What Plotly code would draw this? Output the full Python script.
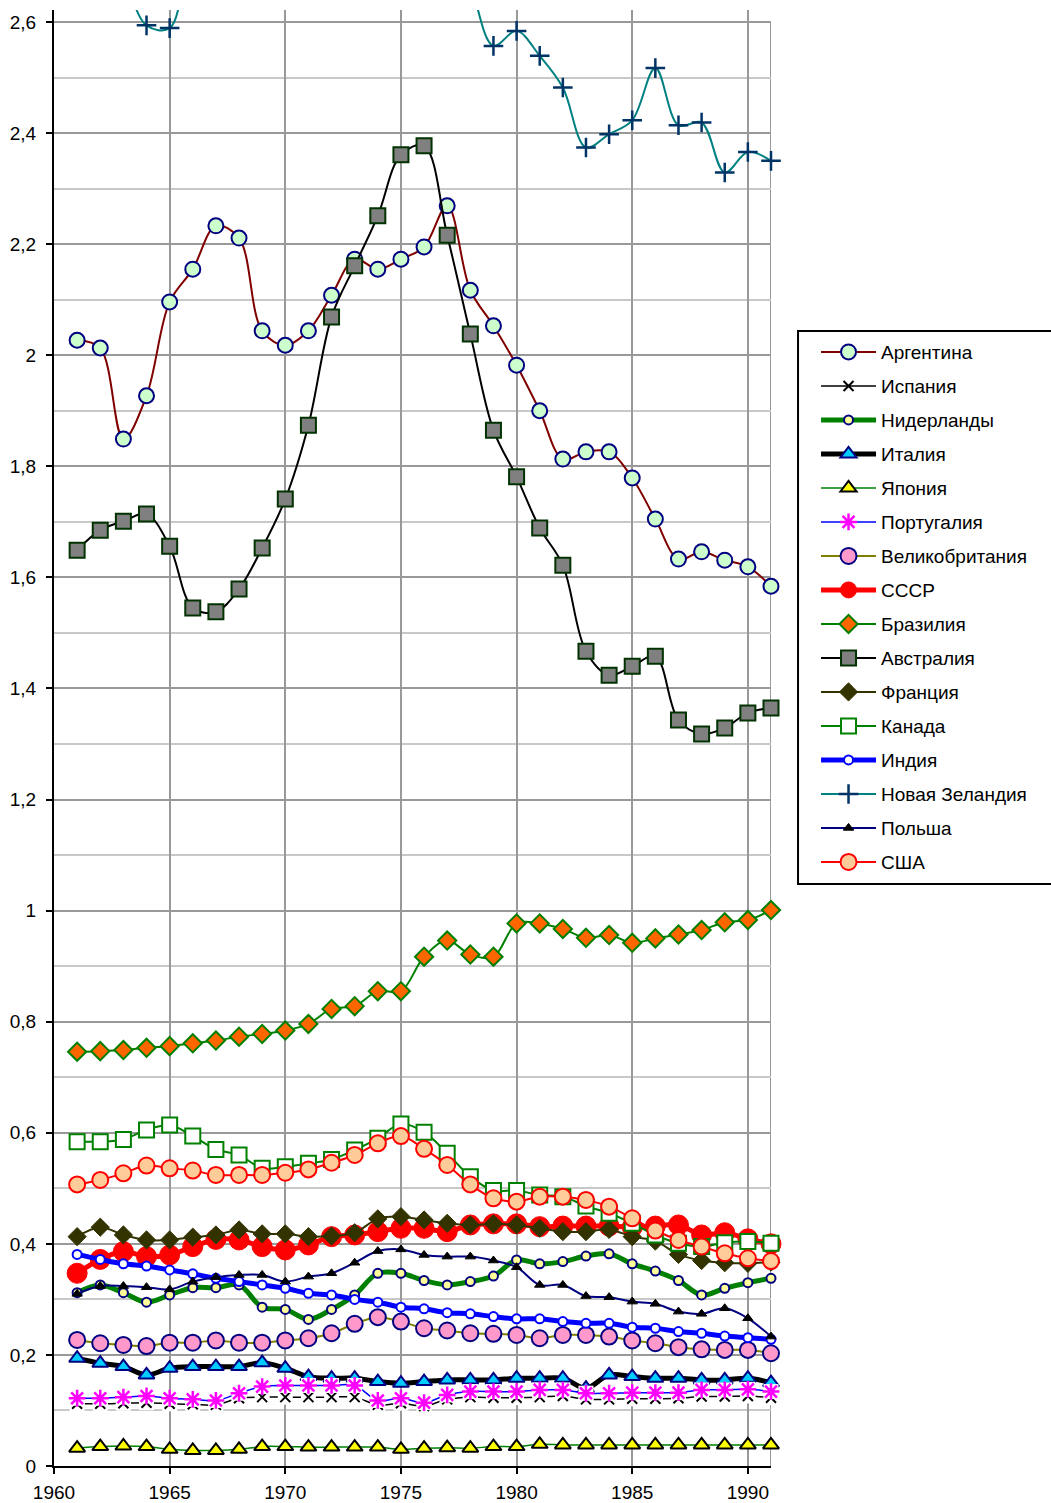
import plotly.graph_objects as go

years = list(range(1961, 1992))

argentina = [2.027, 2.013, 1.849, 1.927, 2.096, 2.155, 2.233, 2.211, 2.044, 2.018, 2.044, 2.108, 2.173, 2.155, 2.173, 2.195, 2.269, 2.117, 2.053, 1.982, 1.900, 1.813, 1.826, 1.826, 1.779, 1.705, 1.633, 1.646, 1.631, 1.619, 1.584]
spain = [0.112, 0.112, 0.113, 0.114, 0.112, 0.111, 0.110, 0.122, 0.124, 0.124, 0.124, 0.124, 0.124, 0.110, 0.113, 0.108, 0.120, 0.124, 0.123, 0.123, 0.124, 0.126, 0.120, 0.120, 0.121, 0.121, 0.122, 0.125, 0.125, 0.126, 0.123]
netherlands = [0.312, 0.326, 0.312, 0.295, 0.308, 0.321, 0.321, 0.326, 0.286, 0.282, 0.264, 0.282, 0.308, 0.347, 0.347, 0.334, 0.326, 0.332, 0.342, 0.371, 0.364, 0.368, 0.378, 0.382, 0.364, 0.351, 0.334, 0.308, 0.320, 0.330, 0.338]
italy = [0.194, 0.185, 0.179, 0.164, 0.176, 0.179, 0.179, 0.179, 0.186, 0.176, 0.161, 0.158, 0.158, 0.152, 0.149, 0.152, 0.155, 0.155, 0.155, 0.158, 0.158, 0.158, 0.140, 0.164, 0.161, 0.158, 0.158, 0.155, 0.155, 0.158, 0.150]
japan = [0.032, 0.035, 0.036, 0.035, 0.030, 0.028, 0.028, 0.030, 0.035, 0.035, 0.034, 0.034, 0.034, 0.034, 0.030, 0.032, 0.033, 0.032, 0.035, 0.035, 0.039, 0.038, 0.038, 0.038, 0.038, 0.038, 0.038, 0.038, 0.038, 0.038, 0.038]
portugal = [0.122, 0.122, 0.124, 0.126, 0.122, 0.120, 0.118, 0.131, 0.143, 0.145, 0.145, 0.145, 0.145, 0.118, 0.122, 0.114, 0.128, 0.134, 0.134, 0.134, 0.137, 0.137, 0.131, 0.131, 0.132, 0.132, 0.132, 0.137, 0.137, 0.138, 0.134]
uk = [0.227, 0.221, 0.218, 0.216, 0.222, 0.222, 0.226, 0.222, 0.222, 0.226, 0.230, 0.239, 0.256, 0.268, 0.260, 0.248, 0.244, 0.239, 0.238, 0.236, 0.230, 0.236, 0.236, 0.233, 0.226, 0.221, 0.214, 0.210, 0.209, 0.209, 0.203]
ussr = [0.347, 0.372, 0.386, 0.377, 0.380, 0.395, 0.408, 0.407, 0.395, 0.389, 0.398, 0.413, 0.416, 0.422, 0.428, 0.428, 0.422, 0.434, 0.436, 0.436, 0.431, 0.432, 0.432, 0.432, 0.430, 0.432, 0.434, 0.416, 0.420, 0.409, 0.400]
brazil = [0.746, 0.747, 0.749, 0.753, 0.756, 0.761, 0.766, 0.773, 0.778, 0.784, 0.796, 0.823, 0.828, 0.855, 0.855, 0.917, 0.946, 0.921, 0.917, 0.977, 0.977, 0.967, 0.951, 0.956, 0.942, 0.950, 0.957, 0.965, 0.979, 0.983, 1.001]
australia = [1.649, 1.685, 1.701, 1.714, 1.656, 1.545, 1.538, 1.579, 1.653, 1.741, 1.874, 2.069, 2.161, 2.251, 2.361, 2.377, 2.216, 2.038, 1.865, 1.781, 1.689, 1.622, 1.467, 1.424, 1.440, 1.458, 1.343, 1.318, 1.329, 1.356, 1.365]
france = [0.413, 0.430, 0.416, 0.407, 0.407, 0.412, 0.416, 0.425, 0.418, 0.418, 0.413, 0.414, 0.420, 0.445, 0.449, 0.443, 0.437, 0.434, 0.436, 0.434, 0.428, 0.422, 0.422, 0.426, 0.413, 0.405, 0.381, 0.370, 0.366, 0.365, 0.367]
canada = [0.584, 0.584, 0.588, 0.605, 0.614, 0.594, 0.570, 0.560, 0.536, 0.539, 0.545, 0.552, 0.569, 0.590, 0.616, 0.601, 0.563, 0.521, 0.496, 0.496, 0.488, 0.485, 0.468, 0.455, 0.437, 0.416, 0.401, 0.395, 0.402, 0.404, 0.401]
india = [0.381, 0.372, 0.364, 0.360, 0.353, 0.346, 0.338, 0.332, 0.326, 0.320, 0.311, 0.308, 0.300, 0.295, 0.286, 0.283, 0.276, 0.274, 0.269, 0.265, 0.265, 0.260, 0.257, 0.257, 0.250, 0.248, 0.242, 0.239, 0.234, 0.231, 0.228]
new_zealand = [2.78, 2.74, 2.68, 2.594, 2.589, 2.75, 2.80, 2.85, 2.80, 2.78, 2.80, 2.82, 2.85, 2.88, 2.90, 2.85, 2.78, 2.67, 2.557, 2.584, 2.539, 2.482, 2.374, 2.398, 2.423, 2.517, 2.414, 2.419, 2.329, 2.366, 2.350]
poland = [0.310, 0.324, 0.324, 0.322, 0.318, 0.332, 0.340, 0.344, 0.344, 0.332, 0.341, 0.347, 0.366, 0.387, 0.390, 0.380, 0.377, 0.377, 0.370, 0.358, 0.326, 0.326, 0.306, 0.304, 0.296, 0.292, 0.278, 0.274, 0.284, 0.266, 0.233]
usa = [0.507, 0.515, 0.527, 0.541, 0.536, 0.532, 0.524, 0.524, 0.524, 0.528, 0.534, 0.546, 0.560, 0.581, 0.594, 0.571, 0.542, 0.507, 0.482, 0.476, 0.485, 0.485, 0.479, 0.467, 0.446, 0.424, 0.407, 0.395, 0.383, 0.374, 0.369]

x_tick_vals = [1960, 1965, 1970, 1975, 1980, 1985, 1990]
x_tick_text = ["1960", "1965", "1970", "1975", "1980", "1985", "1990"]
y_tick_vals = [0, 0.2, 0.4, 0.6, 0.8, 1.0, 1.2, 1.4, 1.6, 1.8, 2.0, 2.2, 2.4, 2.6]
y_tick_text = ["0", "0,2", "0,4", "0,6", "0,8", "1", "1,2", "1,4", "1,6", "1,8", "2", "2,2", "2,4", "2,6"]

X_MIN, X_MAX = 1960, 1991
Y_MIN, Y_TOP_GRID, Y_MAX = 0, 2.6, 2.6216

NAVY = "#000080"
# (name, values, line style, marker style, marker has white background box)
series = [
    ("Аргентина", argentina, dict(color="#800000", width=2), dict(symbol="circle", size=15, color="#CCFFCC", line=dict(color=NAVY, width=2)), False),
    ("Испания", spain, dict(color="#000000", width=1.5), dict(symbol="x-thin-open", size=10, color="#000000", line=dict(color="#000000", width=2)), True),
    ("Нидерланды", netherlands, dict(color="#008000", width=5), dict(symbol="circle", size=9, color="#FFFF99", line=dict(color=NAVY, width=2)), False),
    ("Италия", italy, dict(color="#000000", width=5), dict(symbol="triangle-up", size=14, color="#00CCFF", line=dict(color=NAVY, width=2)), False),
    ("Япония", japan, dict(color="#008000", width=1.5), dict(symbol="triangle-up", size=14, color="#FFFF00", line=dict(color="#000000", width=2)), False),
    ("Португалия", portugal, dict(color="#0000FF", width=1.5), dict(symbol="asterisk-open", size=14, color="#FF00FF", line=dict(color="#FF00FF", width=2.5)), True),
    ("Великобритания", uk, dict(color="#808000", width=2), dict(symbol="circle", size=16, color="#FF99CC", line=dict(color=NAVY, width=2)), False),
    ("СССР", ussr, dict(color="#FF0000", width=5), dict(symbol="circle", size=20, color="#FF0000", line=dict(color="#FF0000", width=1)), False),
    ("Бразилия", brazil, dict(color="#008000", width=2), dict(symbol="diamond", size=14, color="#FF6600", line=dict(color="#008000", width=2)), False),
    ("Австралия", australia, dict(color="#000000", width=2), dict(symbol="square", size=15, color="#808080", line=dict(color="#003300", width=2)), False),
    ("Франция", france, dict(color="#333300", width=2), dict(symbol="diamond", size=14, color="#333300", line=dict(color="#333300", width=1)), False),
    ("Канада", canada, dict(color="#008000", width=2), dict(symbol="square", size=15, color="#FFFFFF", line=dict(color="#008000", width=2)), False),
    ("Индия", india, dict(color="#0000FF", width=5), dict(symbol="circle", size=9, color="#FFFFFF", line=dict(color="#0000FF", width=2)), False),
    ("Новая Зеландия", new_zealand, dict(color="#008080", width=2), dict(symbol="cross-thin-open", size=14, color="#003366", line=dict(color="#003366", width=2.5)), False),
    ("Польша", poland, dict(color=NAVY, width=2), dict(symbol="triangle-up", size=9, color="#000000", line=dict(color="#000000", width=1)), False),
    ("США", usa, dict(color="#FF0000", width=2), dict(symbol="circle", size=16, color="#FFCC99", line=dict(color="#FF0000", width=2)), False),
]

fig = go.Figure()
for name, vals, line, marker, white_bg in series:
    ln = dict(line)
    ln["shape"] = "spline"
    ln["smoothing"] = 1.0
    if not white_bg:
        fig.add_trace(go.Scatter(x=years, y=vals, name=name, mode="lines+markers",
                                 line=ln, marker=marker, legendgroup=name, cliponaxis=False))
    else:
        # line, then white background boxes, then the glyph markers (as Excel draws them)
        fig.add_trace(go.Scatter(x=years, y=vals, name=name, mode="lines", line=ln,
                                 legendgroup=name, showlegend=False))
        fig.add_trace(go.Scatter(x=years, y=vals, name=name, mode="markers",
                                 marker=dict(symbol="square", size=15, color="white", line=dict(width=0)),
                                 legendgroup=name, showlegend=False, cliponaxis=False, hoverinfo="skip"))
        fig.add_trace(go.Scatter(x=years, y=vals, name=name, mode="markers", marker=marker,
                                 legendgroup=name, showlegend=False, cliponaxis=False))
        fig.add_trace(go.Scatter(x=[None], y=[None], name=name, mode="lines+markers",
                                 line=dict(color=line["color"], width=line["width"]), marker=marker,
                                 legendgroup=name, showlegend=True))

FONT = "Arial, Liberation Sans, sans-serif"
# right edge of the plot area
fig.add_shape(type="line", xref="x", yref="y", x0=X_MAX, x1=X_MAX, y0=Y_MIN, y1=Y_TOP_GRID,
              line=dict(color="#999999", width=2), layer="below")
# legend frame (runs past the right edge of the page, as in the original)
LEG_X0, LEG_X1, LEG_Y0, LEG_Y1 = 1.0377, 1.41, 0.3997, 0.7795
fig.add_shape(type="rect", xref="paper", yref="paper", x0=LEG_X0, x1=LEG_X1, y0=LEG_Y0, y1=LEG_Y1,
              line=dict(color="black", width=2), fillcolor="white", layer="above")

fig.update_layout(
    width=1051, height=1503,
    paper_bgcolor="white", plot_bgcolor="white",
    margin=dict(l=54, r=280, t=10, b=37, autoexpand=False),
    separators=", ",
    font=dict(family=FONT, size=19, color="black"),
    xaxis=dict(range=[X_MIN, X_MAX], tickvals=x_tick_vals, ticktext=x_tick_text,
               showgrid=True, gridcolor="#999999", gridwidth=2,
               showline=True, linecolor="black", linewidth=2,
               ticks="outside", ticklen=6, tickcolor="black", tickwidth=2,
               ticklabelstandoff=2, automargin=False,
               zeroline=False, tickfont=dict(size=19, family=FONT)),
    yaxis=dict(range=[Y_MIN, Y_MAX], tickvals=y_tick_vals, ticktext=y_tick_text,
               showgrid=True, gridcolor="#999999", gridwidth=2,
               minor=dict(dtick=0.1, tick0=0, showgrid=True, gridcolor="#C8C8C8", gridwidth=2),
               showline=True, linecolor="black", linewidth=2,
               ticks="outside", ticklen=6, tickcolor="black", tickwidth=2,
               ticklabelstandoff=6, automargin=False,
               zeroline=False, tickfont=dict(size=19, family=FONT)),
    legend=dict(x=LEG_X0, xanchor="left", y=LEG_Y1 - 0.0014, yanchor="top",
                bgcolor="rgba(0,0,0,0)", borderwidth=0,
                font=dict(size=19, family=FONT, color="black"),
                traceorder="grouped", tracegroupgap=6.3, itemwidth=55, indentation=18),
    showlegend=True,
)

fig.write_html("out.html", config={"displayModeBar": False},
               post_script="document.body.style.margin='0px'; document.body.style.overflow='hidden';")
